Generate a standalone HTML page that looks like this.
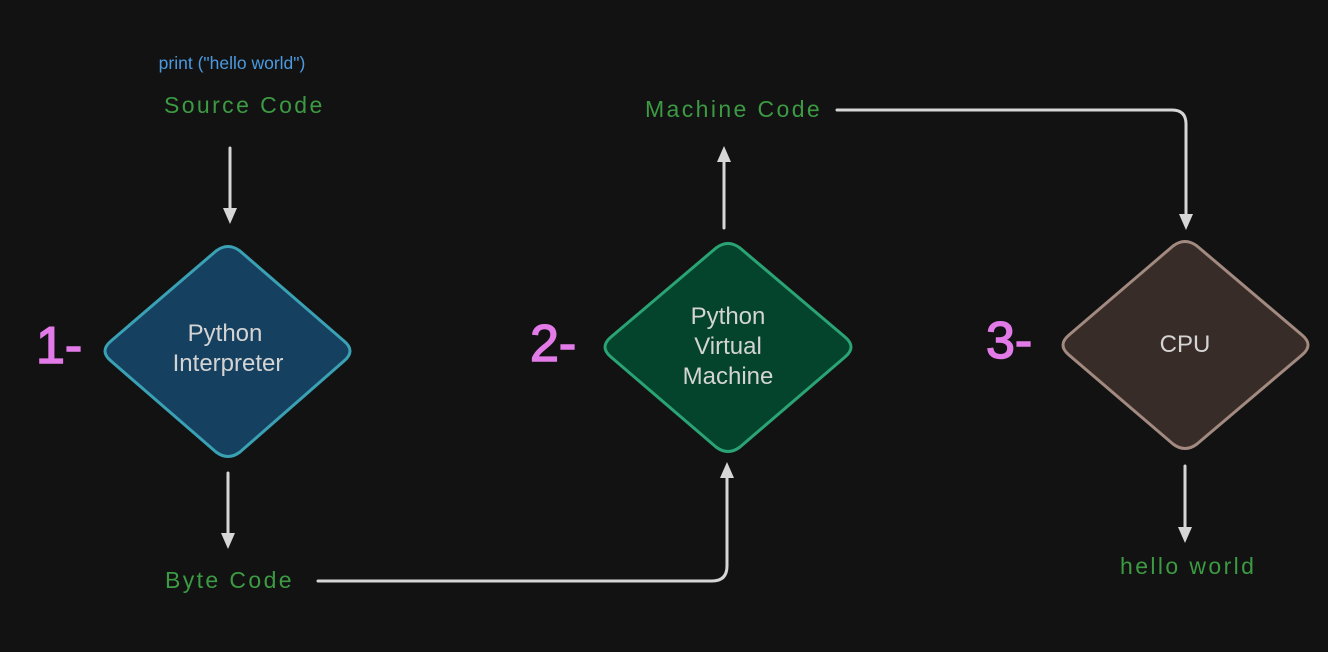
<!DOCTYPE html>
<html><head><meta charset="utf-8"><style>
html,body{margin:0;padding:0;background:#121212;}
svg{display:block}
.g{font-family:"Comic Sans MS","Liberation Sans",sans-serif;fill:#3c9a43;font-size:23px;letter-spacing:2.4px}
.w{font-family:"Liberation Sans",sans-serif;fill:#d4d4d4;font-size:24px;text-anchor:middle}
.p{font-family:"Liberation Sans",sans-serif;fill:#e27be8;font-size:52px;stroke:#e27be8;stroke-width:1.5}
</style></head><body>
<svg width="1328" height="652" viewBox="0 0 1328 652" xmlns="http://www.w3.org/2000/svg">
<defs>
<marker id="a" markerWidth="16" markerHeight="16" refX="8" refY="8" orient="auto" markerUnits="userSpaceOnUse">
<path d="M0,1 L16,8 L0,15 z" fill="#d6d6d6"/></marker>
</defs>
<g fill="none" stroke="#d6d6d6" stroke-width="3" stroke-linecap="round">
<path d="M230,148 V216" marker-end="url(#a)"/>
<path d="M228,473 V541" marker-end="url(#a)"/>
<path d="M318,581 H712 Q727,581 727,566 V470" marker-end="url(#a)"/>
<path d="M724,228 V154" marker-end="url(#a)"/>
<path d="M837,110 H1172 Q1186,110 1186,124 V222" marker-end="url(#a)"/>
<path d="M1185,466 V535" marker-end="url(#a)"/>
</g>
<path d="M216,251 Q228,242 240,251 L344,341 Q356,351 344,361 L240,452 Q228,461 216,452 L111,361 Q99,351 111,341 Z" fill="#16405f" stroke="#3aa1b5" stroke-width="3"/>
<path d="M716,248 Q728,239 740,248 L845,337 Q857,347 845,357 L740,447 Q728,456 716,447 L611,357 Q599,347 611,337 Z" fill="#04432c" stroke="#2ba475" stroke-width="3"/>
<path d="M1173,246 Q1185,237 1197,246 L1302,335 Q1314,345 1302,355 L1197,444 Q1185,453 1173,444 L1069,355 Q1057,345 1069,335 Z" fill="#382c28" stroke="#a28a80" stroke-width="3"/>
<text x="232" y="69" font-family="Liberation Sans,sans-serif" font-size="17.5" fill="#4b9ae0" text-anchor="middle">print ("hello world")</text>
<text class="g" x="164" y="113">Source Code</text>
<text class="g" x="165" y="588">Byte Code</text>
<text class="g" x="645" y="117">Machine Code</text>
<text class="g" x="1120" y="574">hello world</text>
<text class="w" x="225" y="341">Python</text>
<text class="w" x="228" y="371">Interpreter</text>
<text class="w" x="728" y="324">Python</text>
<text class="w" x="728" y="354">Virtual</text>
<text class="w" x="728" y="384">Machine</text>
<text class="w" x="1185" y="352">CPU</text>
<text class="p" x="36" y="363">1-</text>
<text class="p" x="530" y="361">2-</text>
<text class="p" x="986" y="358">3-</text>
</svg>
</body></html>
